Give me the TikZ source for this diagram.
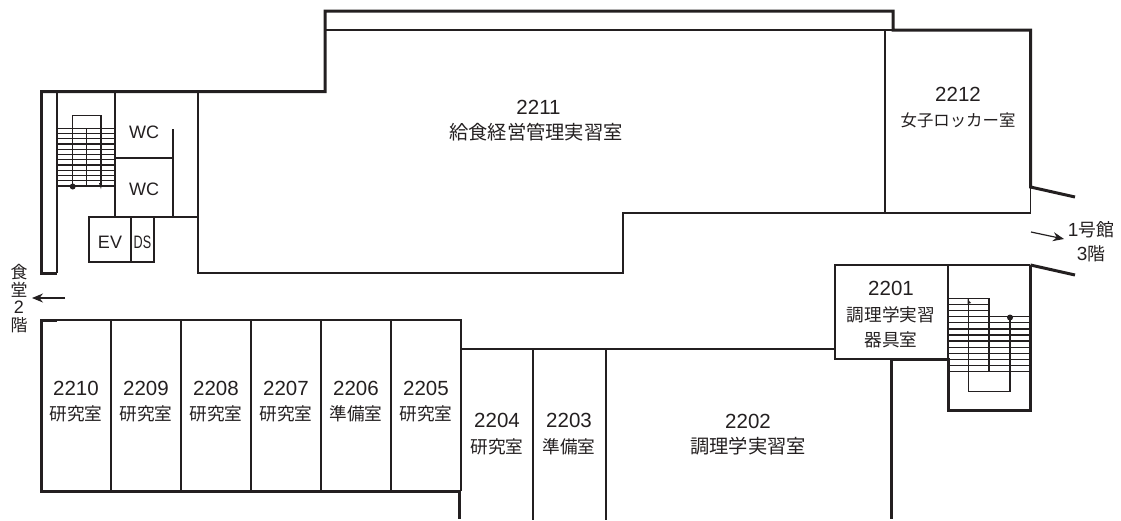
\documentclass[tikz,border=0pt]{standalone}
\usepackage{fontspec}
\setmainfont{Liberation Sans}
\newfontfamily\cjk[Scale=0.86]{Noto Sans CJK JP}
\newfontfamily\cjkbig[Scale=0.94]{Noto Sans CJK JP}
\newfontfamily\cjksmall[Scale=0.80]{Noto Sans CJK JP}
\usetikzlibrary{positioning, arrows.meta}
\definecolor{ink}{HTML}{231F20}
\tikzset{
    wall/.style={line width=3pt, ink, line cap=square},
    thin wall/.style={line width=1.5pt, ink},
    tread/.style={line width=1.3pt, ink},
    room/.style={align=center, text=ink, inner sep=0pt, font=\fontsize{20.5}{25.5}\selectfont},
    sign/.style={room, font=\fontsize{18}{20}\selectfont},
    way/.style={line width=1.2pt, ink, -{Stealth[length=11pt,width=9pt]}}
}
\begin{document}
\begin{tikzpicture}[x=1pt, y=-1pt]
    \useasboundingbox (0,0) rectangle (1121,520);

    % Thin walls, upper block
    \draw [thin wall] (325,30) -- (893,30);
    \draw [thin wall] (885,30) -- (885,213);
    \draw [thin wall] (1030.5,187) -- (1030.5,213) -- (623,213) -- (623,273) -- (198,273) -- (198,91);
    \draw [thin wall] (57,91) -- (57,273);
    \draw [thin wall] (115,91) -- (115,217);
    \draw [thin wall] (115,158) -- (173,158);
    \draw [thin wall] (173,129) -- (173,217);
    \draw [thin wall] (89,217) -- (198,217);
    \draw [thin wall] (89,217) rectangle (154,262);
    \draw [thin wall] (131,217) -- (131,262);

    % Thin walls, lower block
    \draw [thin wall] (57,320) -- (461,320) -- (461,491);
    \foreach \x in {111,181,251,321,391} {
        \draw [thin wall] (\x,320) -- (\x,491);
    }
    \draw [thin wall] (461,349) -- (835,349);
    \draw [thin wall] (533,349) -- (533,520);
    \draw [thin wall] (606,349) -- (606,520);
    \draw [thin wall] (835,265) rectangle (948,359);
    \draw [thin wall] (948,265) -- (1030,265);

    % Outer walls
    \draw [wall] (57,91.5) -- (41.5,91.5) -- (41.5,273) -- (57,273);
    \draw [wall] (41,91.5) -- (325,91.5) -- (325,11) -- (893,11) -- (893,30) -- (1030.5,30) -- (1030.5,187) -- (1075,197);
    \draw [wall] (1030.5,265) -- (1075,275);
    \draw [wall] (1030.5,265) -- (1030.5,410.5) -- (948,410.5) -- (948,359.5) -- (891,359.5) -- (891,519);
    \draw [wall] (57,320) -- (41.5,320) -- (41.5,491) -- (459,491) -- (459,519);

    % Stairs, left
    \foreach \i in {0,...,11} {
        \draw [tread] (57,{128.3+\i*5.25}) -- (115,{128.3+\i*5.25});
    }
    \draw [tread] (72.7,186) -- (72.7,115.5) -- (101,115.5) -- (101,186);
    \draw [tread] (86.7,128.3) -- (86.7,186);
    \fill [ink] (72.7,186.5) circle (3pt);
    \fill [ink] (99,183) -- (102,183) -- (101,189) -- cycle;

    % Stairs, right
    \foreach \i in {0,...,12} {
        \draw [tread] (948,{298.3+\i*6.12}) -- ({\i<3 ? 989 : 1030},{298.3+\i*6.12});
    }
    \draw [tread] (968.3,298.3) -- (968.3,391.7) -- (1010,391.7) -- (1010,316.7);
    \draw [tread] (989,298.3) -- (989,371.7);
    \fill [ink] (1010,317.5) circle (3pt);
    \fill [ink] (967.5,299) -- (971,303) -- (967.5,304) -- cycle;

    % Ways out
    \coordinate (leftfrom) at (65,298);
    \coordinate (leftto) at (32,298);
    \coordinate (rightfrom) at (1031,232);
    \coordinate (rightto) at (1064,239);
    \draw [way] (leftfrom) -- (leftto);
    \draw [way] (rightfrom) -- (rightto);
    \node [room, font=\fontsize{18}{17.8}\selectfont] (canteen) at (19,298.5) {{\cjkbig 食}\\{\cjkbig 堂}\\2\\{\cjkbig 階}};
    \node [room, font=\fontsize{19}{23.5}\selectfont] (bldg) at (1091,241.5) {1{\cjkbig 号館}\\3{\cjkbig 階}};

    % Upper rooms
    \node [room] (r2211) at (536,120.5) {\hspace*{5pt}2211\\{\cjkbig 給食経営管理実習室}};
    \node [room] (r2212) at (958,107.5) {2212\\{\cjksmall 女子ロッカー室}};
    \node [sign] (wc1) at (144,132) {WC};
    \node [sign] (wc2) at (144,189) {WC};
    \node [sign] (ev) at (110,242) {EV};
    \node [sign, xscale=0.7] (ds) at (142.5,242) {DS};

    % Lower rooms
    \node [room] (r2210) at (76,401.5) {2210\\{\cjk 研究室}};
    \node [room] (r2209) at (146,401.5) {2209\\{\cjk 研究室}};
    \node [room] (r2208) at (216,401.5) {2208\\{\cjk 研究室}};
    \node [room] (r2207) at (286,401.5) {2207\\{\cjk 研究室}};
    \node [room] (r2206) at (356,401.5) {2206\\{\cjk 準備室}};
    \node [room] (r2205) at (426,401.5) {2205\\{\cjk 研究室}};
    \node [room] (r2204) at (497,434) {2204\\{\cjk 研究室}};
    \node [room] (r2203) at (569,434) {2203\\{\cjk 準備室}};
    \node [room] (r2202) at (748,434.5) {2202\\{\cjkbig 調理学実習室}};
    \node [room] (r2201) at (891,315) {2201\\{\cjk 調理学実習}\\{\cjk 器具室}};
\end{tikzpicture}
\end{document}
